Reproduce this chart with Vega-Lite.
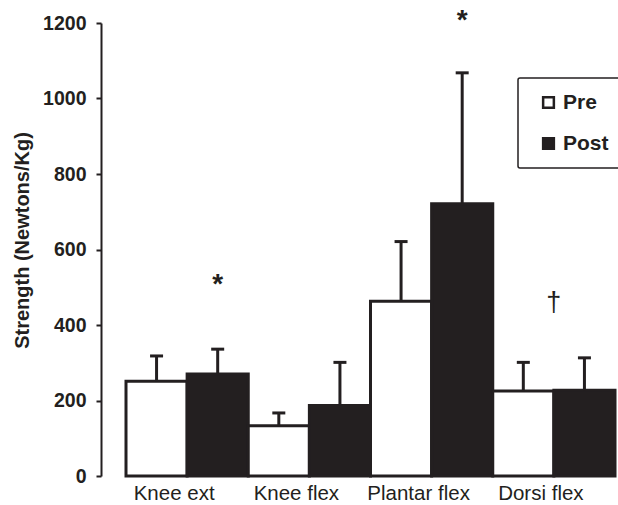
{
  "$schema": "https://vega.github.io/schema/vega-lite/v6.json",
  "width": 489,
  "height": 453,
  "autosize": {"type": "none"},
  "padding": {"left": 126, "top": 23, "right": 3, "bottom": 29},
  "background": "white",
  "config": {"view": {"stroke": null}, "font": "Liberation Sans"},
  "datasets": {
    "bars": [
      {"muscle": "Knee ext", "series": "Pre", "value": 251, "err": 318},
      {"muscle": "Knee ext", "series": "Post", "value": 270, "err": 336},
      {"muscle": "Knee flex", "series": "Pre", "value": 133, "err": 167},
      {"muscle": "Knee flex", "series": "Post", "value": 187, "err": 301},
      {"muscle": "Plantar flex", "series": "Pre", "value": 463, "err": 621},
      {"muscle": "Plantar flex", "series": "Post", "value": 721, "err": 1068},
      {"muscle": "Dorsi flex", "series": "Pre", "value": 225, "err": 301},
      {"muscle": "Dorsi flex", "series": "Post", "value": 227, "err": 313}
    ],
    "stars": [
      {"muscle": "Knee ext", "series": "Post", "label": "*", "pos": 505},
      {"muscle": "Plantar flex", "series": "Post", "label": "*", "pos": 1205}
    ],
    "dagger": [
      {"muscle": "Dorsi flex", "label": "†", "pos": 457}
    ]
  },
  "layer": [
    {
      "data": {"name": "bars"},
      "mark": {"type": "bar", "stroke": "#231f20", "strokeWidth": 3},
      "encoding": {
        "x": {
          "field": "muscle", "type": "nominal",
          "sort": ["Knee ext", "Knee flex", "Plantar flex", "Dorsi flex"],
          "scale": {"paddingInner": 0, "paddingOuter": 0},
          "axis": {
            "title": null, "domain": false, "ticks": false, "labelAngle": 0,
            "labelFont": "Liberation Sans", "labelFontSize": 20.5, "labelFontWeight": "normal",
            "labelColor": "#231f20", "labelPadding": 7, "labelOffset": -13
          }
        },
        "xOffset": {"field": "series", "type": "nominal", "sort": ["Pre", "Post"], "scale": {"paddingInner": 0, "paddingOuter": 0}},
        "y": {
          "field": "value", "type": "quantitative",
          "scale": {"domain": [0, 1200], "nice": false},
          "axis": {
            "values": [0, 200, 400, 600, 800, 1000, 1200], "format": "d",
            "offset": 25, "grid": false,
            "domainColor": "#231f20", "domainWidth": 2,
            "tickColor": "#231f20", "tickWidth": 2, "tickSize": 5,
            "labelFont": "Liberation Sans", "labelFontWeight": "bold", "labelFontSize": 19.5,
            "labelColor": "#231f20", "labelPadding": 10,
            "title": "Strength (Newtons/Kg)", "titleFont": "Liberation Sans",
            "titleFontSize": 20, "titleFontWeight": "bold", "titleColor": "#231f20",
            "titlePadding": 10, "titleY": 217
          }
        },
        "fill": {
          "field": "series", "type": "nominal", "sort": ["Pre", "Post"],
          "scale": {"domain": ["Pre", "Post"], "range": ["white", "#231f20"]},
          "legend": {
            "title": null, "orient": "none", "legendX": 392, "legendY": 55,
            "strokeColor": "#231f20", "cornerRadius": 2,
            "padding": 14, "symbolOffset": 6, "rowPadding": 19,
            "symbolType": "square", "symbolSize": 115,
            "symbolStrokeColor": "#231f20", "symbolStrokeWidth": 2.5,
            "labelFont": "Liberation Sans", "labelFontSize": 21, "labelFontWeight": "bold",
            "labelColor": "#231f20", "labelOffset": 4,
            "encode": {"legend": {"update": {"strokeWidth": {"value": 1.5}}}}
          }
        }
      }
    },
    {
      "data": {"name": "bars"},
      "mark": {"type": "rule", "stroke": "#231f20", "strokeWidth": 3},
      "encoding": {
        "x": {"field": "muscle", "type": "nominal", "sort": ["Knee ext", "Knee flex", "Plantar flex", "Dorsi flex"]},
        "xOffset": {"field": "series", "type": "nominal", "sort": ["Pre", "Post"]},
        "y": {"field": "value", "type": "quantitative"},
        "y2": {"field": "err"}
      }
    },
    {
      "data": {"name": "bars"},
      "mark": {"type": "tick", "color": "#231f20", "size": 13, "thickness": 3, "opacity": 1},
      "encoding": {
        "x": {"field": "muscle", "type": "nominal", "sort": ["Knee ext", "Knee flex", "Plantar flex", "Dorsi flex"]},
        "xOffset": {"field": "series", "type": "nominal", "sort": ["Pre", "Post"]},
        "y": {"field": "err", "type": "quantitative"}
      }
    },
    {
      "data": {"name": "stars"},
      "mark": {"type": "text", "font": "Liberation Sans", "fontSize": 28, "fontWeight": "bold", "color": "#231f20", "baseline": "middle", "clip": false},
      "encoding": {
        "x": {"field": "muscle", "type": "nominal", "sort": ["Knee ext", "Knee flex", "Plantar flex", "Dorsi flex"]},
        "xOffset": {"field": "series", "type": "nominal", "sort": ["Pre", "Post"]},
        "y": {"field": "pos", "type": "quantitative"},
        "text": {"field": "label"}
      }
    },
    {
      "data": {"name": "dagger"},
      "mark": {"type": "text", "font": "Liberation Sans", "fontSize": 27, "color": "#231f20", "baseline": "middle", "clip": false},
      "encoding": {
        "x": {"field": "muscle", "type": "nominal", "sort": ["Knee ext", "Knee flex", "Plantar flex", "Dorsi flex"]},
        "y": {"field": "pos", "type": "quantitative"},
        "text": {"field": "label"}
      }
    }
  ]
}
